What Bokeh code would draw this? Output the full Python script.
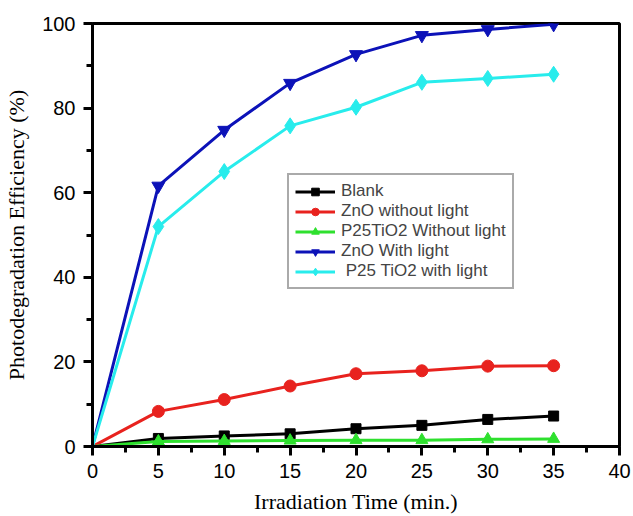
from bokeh.plotting import figure
from bokeh.models import FixedTicker, Range1d
from bokeh.embed import file_html
from bokeh.resources import INLINE

time_min = [0, 5, 10, 15, 20, 25, 30, 35]
blank = [0, 1.9, 2.5, 3.0, 4.2, 5.0, 6.4, 7.2]
zno_dark = [0, 8.3, 11.1, 14.3, 17.2, 17.9, 19.0, 19.1]
p25_dark = [0, 1.2, 1.3, 1.4, 1.5, 1.5, 1.7, 1.8]
zno_light = [0, 61.6, 74.8, 85.9, 92.7, 97.2, 98.6, 99.8]
p25_light = [0, 52.0, 65.0, 75.8, 80.2, 86.1, 87.0, 88.0]

labels = ["Blank", "ZnO without light", "P25TiO2 Without light",
          "ZnO With light", " P25 TiO2 with light"]
x_ticks = [0, 5, 10, 15, 20, 25, 30, 35, 40]
y_ticks = [0, 20, 40, 60, 80, 100]

p = figure(width=633, height=516, output_backend="svg", toolbar_location=None,
           x_range=Range1d(0, 40), y_range=Range1d(0, 100),
           min_border_left=92, min_border_right=14, min_border_top=23,
           min_border_bottom=68)

series = [
    (blank, "black", "square", 10),
    (zno_dark, "#e8221e", "circle", 12),
    (p25_dark, "#2ee02e", "triangle", 12),
    (zno_light, "#0c12b8", "inverted_triangle", 13),
    (p25_light, "#28ecec", "diamond", 16),
]

for (ys, col, mk, sz), lab in zip(series, labels):
    p.line(time_min, ys, line_color=col, line_width=3, legend_label=lab)
    p.scatter(time_min[1:], ys[1:], marker=mk, size=sz, fill_color=col,
              line_color=col, legend_label=lab)

p.grid.visible = False
p.outline_line_color = "black"
p.outline_line_width = 3
p.background_fill_color = "white"
p.border_fill_color = "white"

for ax in (p.xaxis[0], p.yaxis[0]):
    ax.axis_line_width = 3
    ax.axis_line_color = "black"
    ax.major_tick_line_width = 3
    ax.minor_tick_line_width = 3
    ax.major_tick_out = 9
    ax.major_tick_in = 0
    ax.minor_tick_out = 6
    ax.minor_tick_in = 0
    ax.major_label_text_font = "Liberation Sans"
    ax.major_label_text_font_size = "20px"
    ax.major_label_text_color = "black"
    ax.axis_label_text_font = "Liberation Serif"
    ax.axis_label_text_font_size = "22px"
    ax.axis_label_text_font_style = "normal"
    ax.axis_label_text_color = "black"

p.xaxis[0].ticker = FixedTicker(ticks=x_ticks,
                                minor_ticks=[2.5, 7.5, 12.5, 17.5, 22.5, 27.5, 32.5, 37.5])
p.yaxis[0].ticker = FixedTicker(ticks=y_ticks,
                                minor_ticks=[10, 30, 50, 70, 90])
p.xaxis[0].axis_label = "Irradiation Time (min.)"
p.yaxis[0].axis_label = "Photodegradation Efficiency (%)"
p.xaxis[0].major_label_standoff = 8
p.yaxis[0].major_label_standoff = 8
p.xaxis[0].axis_label_standoff = 8
p.yaxis[0].axis_label_standoff = 10

leg = p.legend[0]
leg.location = (195, 157)
leg.border_line_color = "#555555"
leg.border_line_width = 2
leg.label_text_font = "Liberation Sans"
leg.label_text_font_size = "17px"
leg.label_height = 19
leg.glyph_width = 40
leg.glyph_height = 19
leg.spacing = 0
leg.padding = 6
leg.margin = 0
leg.label_standoff = 6
leg.background_fill_alpha = 1

open("out.html", "w").write(file_html(p, INLINE))
